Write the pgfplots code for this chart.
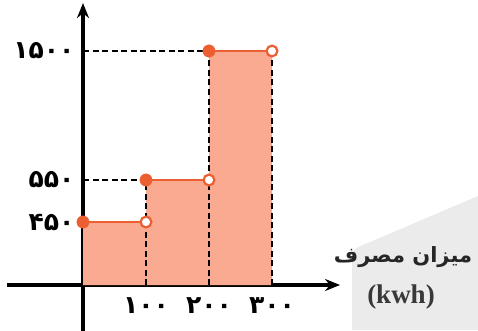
\documentclass[border=0pt]{standalone}
\usepackage{pgfplots}
\pgfplotsset{compat=1.18}
\usepackage{fontspec}
\setmainfont{Liberation Serif}
\newfontfamily\pfont[Script=Arabic]{DejaVu Sans}
\TeXXeTstate=1
\usetikzlibrary{arrows.meta}
\definecolor{fillc}{RGB}{249,170,144}
\definecolor{linec}{RGB}{236,95,50}
\definecolor{bgc}{RGB}{235,235,235}
\begin{document}
\begin{tikzpicture}[x=1pt,y=1pt]
\useasboundingbox (0,0) rectangle (478pt,330pt);
\fill[bgc] (352pt,0pt) -- (352pt,78pt) [rounded corners=4pt] -- (356pt,82pt) [sharp corners] -- (478pt,134pt) -- (478pt,0pt) -- cycle;
\begin{axis}[
  at={(83pt,45pt)}, anchor=origin,
  x=0.63pt, y=1pt,
  y coord trafo/.code={\pgfmathparse{#1<=450 ? #1/450*63 : (#1<=550 ? 63+(#1-450)*0.42 : 105+(#1-550)/950*129)}},
  y coord inv trafo/.code={\pgfmathparse{#1<=63 ? #1/63*450 : (#1<=105 ? 450+(#1-63)/0.42 : 550+(#1-105)/129*950)}},
  xmin=-121, xmax=408, ymin=-357, ymax=1853,
  enlargelimits=false, clip=false,
  axis lines=middle,
  x axis line style={line width=3.4pt, -{Stealth[length=15pt,width=12pt]}},
  y axis line style={line width=3.4pt, -{Stealth[length=15pt,width=12pt]}},
  major tick length=0pt,
  xtick={100,200,300}, ytick={450,550,1500},
  xticklabels={{۱۰۰},{۲۰۰},{۳۰۰}},
  yticklabels={{۴۵۰},{۵۵۰},{۱۵۰۰}},
  ticklabel style={font=\pfont\bfseries\fontsize{25}{25}\selectfont},
  xticklabel style={yshift=-9pt},
  yticklabel style={xshift=-5pt},
]
\addplot[fill=fillc, draw=none] coordinates {(0,0)(0,450)(100,450)(100,550)(200,550)(200,1500)(300,1500)(300,0)} -- cycle;
\addplot[black, line width=2.8pt, dash pattern=on 6pt off 3.5pt] coordinates {(0,1500)(200,1500)};
\addplot[black, line width=2.8pt, dash pattern=on 6pt off 3.5pt] coordinates {(0,550)(100,550)};
\addplot[black, line width=2.8pt, dash pattern=on 6pt off 3.5pt] coordinates {(100,0)(100,550)};
\addplot[black, line width=2.8pt, dash pattern=on 6pt off 3.5pt] coordinates {(200,0)(200,1500)};
\addplot[black, line width=2.8pt, dash pattern=on 6pt off 3.5pt] coordinates {(300,0)(300,1500)};
\addplot[linec, line width=2.8pt] coordinates {(0,450)(100,450)};
\addplot[linec, line width=2.8pt] coordinates {(100,550)(200,550)};
\addplot[linec, line width=2.8pt] coordinates {(200,1500)(300,1500)};
\addplot[only marks, mark=*, mark size=6.2pt, mark options={fill=linec, draw=linec}] coordinates {(0,450)(100,550)(200,1500)};
\addplot[only marks, mark=*, mark size=5.4pt, mark options={fill=white, draw=linec, line width=2.2pt}] coordinates {(100,450)(200,550)(300,1500)};
\end{axis}
\node[font=\pfont\bfseries\fontsize{21}{23}\selectfont, text=black!85] at (403pt,73pt) {\beginR میزان مصرف\endR};
\node[font=\bfseries\fontsize{27}{29}\selectfont, text=black!78] at (401pt,33pt) {(kwh)};
\end{tikzpicture}
\end{document}
